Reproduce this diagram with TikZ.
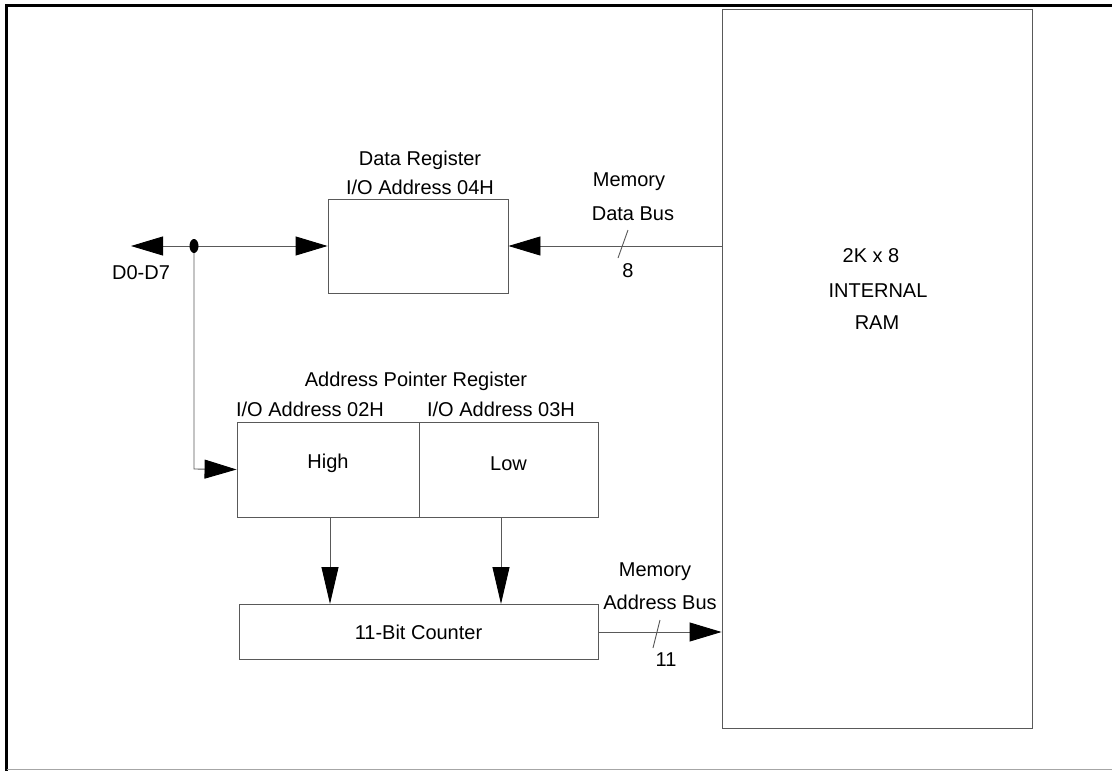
\documentclass[tikz,border=0pt]{standalone}
\usepackage{fontspec}
\setmainfont{Liberation Sans}
\usetikzlibrary{arrows.meta,shapes.geometric}
\tikzset{
  wire/.style={draw=black!65, line width=0.9pt},
  box/.style={draw=black!65, line width=0.9pt, rectangle, inner sep=0pt},
  harrow/.style={-{Triangle[length=32pt,width=19pt,black]}},
  varrow/.style={-{Triangle[length=37pt,width=17pt,black]}},
  lbl/.style={inner sep=0pt, font=\fontsize{20}{23}\selectfont},
}
\begin{document}
\begin{tikzpicture}[x=1pt,y=-1pt]
\useasboundingbox (0,0) rectangle (1112,771);
% frame
\draw[black, line width=2.5pt] (6.5,771) -- (6.5,5.5) -- (1112,5.5);
\draw[black!35, line width=1.5pt] (6.5,769.5) -- (1112,769.5);
% boxes
\node[box, minimum width=180pt, minimum height=94pt] (dreg) at (418,246) {};
\node[box, minimum width=182pt, minimum height=95pt] (high) at (328,469.5) {};
\node[box, minimum width=179pt, minimum height=95pt] (low) at (508.5,469.5) {};
\node[box, minimum width=359pt, minimum height=55pt] (cnt) at (418.5,632) {};
\node[box, minimum width=310pt, minimum height=719pt] (ram) at (877,368.5) {};
% labels
\node[lbl] (tdr) at (420,160) {Data Register};
\node[lbl] (tio4) at (420,187) {I/O Address 04H};
\node[lbl] (tapr) at (416,381) {Address Pointer Register};
\node[lbl] (tio2) at (310,409) {I/O Address 02H};
\node[lbl] (tio3) at (501,409) {I/O Address 03H};
\node[lbl] at (high.center) [yshift=6pt] {High};
\node[lbl] at (low.center) [yshift=6pt] {Low};
\node[lbl] at (cnt.center) {11-Bit Counter};
\node[lbl] (t2k) at (871,256) {2K x 8};
\node[lbl] (tint) at (878,291) {INTERNAL};
\node[lbl] (tram) at (877,323) {RAM};
\node[lbl] (td07) at (141,273) {D0-D7};
\node[lbl] (tmem1) at (629,182) {Memory};
\node[lbl] (tdb) at (633,214) {Data Bus};
\node[lbl] (t8) at (628,271) {8};
\node[lbl] (tmem2) at (655,572) {Memory};
\node[lbl] (tab) at (660,602) {Address Bus};
\node[lbl] (t11) at (666,660) {11};
% D0-D7 bus
\coordinate (dend) at (131,246);
\coordinate (junc) at (194,246);
\coordinate (bend) at (194,469);
\draw[wire, harrow] (junc) -- (dend);
\draw[wire, harrow] (junc) -- (dreg.west);
\draw[wire, harrow] (junc) -- (bend) -- (high.west);
\node[ellipse, fill=black, minimum width=9pt, minimum height=14pt, inner sep=0pt] (dot) at (junc) {};
% memory data bus
\draw[wire, harrow] (ram.west |- dreg.east) -- (dreg.east);
\draw[wire] (628,230) -- (618,258);
% high/low to counter
\draw[wire, varrow] (330,517) -- (330,604);
\draw[wire, varrow] (501,517) -- (501,604);
% memory address bus
\draw[wire, harrow] (cnt.east) -- (ram.west |- cnt.east);
\draw[wire] (660,620) -- (653,648);
\end{tikzpicture}
\end{document}
